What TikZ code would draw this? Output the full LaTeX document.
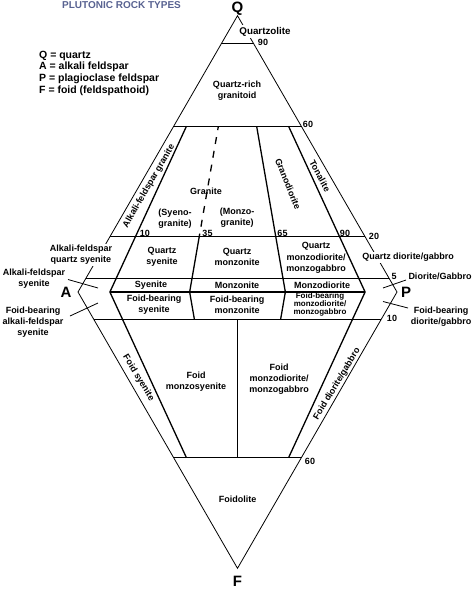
\documentclass[tikz,border=0pt]{standalone}
\usepackage{fontspec}
\setmainfont{Liberation Sans}
\definecolor{titleblue}{RGB}{88,98,145}
\begin{document}
\begin{tikzpicture}[x=1pt,y=-1pt,
  edge/.style={line width=0.8pt},
  bnd/.style={line width=1.3pt},
  lead/.style={line width=0.8pt},
  lbl/.style={font=\fontsize{9}{11.2}\selectfont\bfseries, align=center, inner sep=0pt},
  small/.style={font=\fontsize{8}{7.4}\selectfont\bfseries, align=center, inner sep=0pt},
  num/.style={font=\fontsize{9}{10}\selectfont\bfseries, inner sep=0pt},
  big/.style={font=\fontsize{15}{15}\selectfont\bfseries, inner sep=0pt},
  leg/.style={font=\fontsize{10.5}{12}\selectfont\bfseries, inner sep=0pt, anchor=base west},
  cover/.style={fill=white, inner sep=1.5pt}]
\useasboundingbox (0,0) rectangle (474,592);

% vertices
\coordinate (A) at (78,292);
\coordinate (P) at (397,292);
\coordinate (Q) at (237.5,15.7);
\coordinate (F) at (237.5,568.3);

% outline
\draw[edge] (A) -- (Q) -- (P) -- (F) -- cycle;

% horizontal lines
\coordinate (q90l) at (221.55,43.33);  \coordinate (q90r) at (253.45,43.33);
\coordinate (q60l) at (173.7,126.2);   \coordinate (q60r) at (301.3,126.2);
\coordinate (q20l) at (109.9,236.74);  \coordinate (q20r) at (365.1,236.74);
\coordinate (q5l)  at (85.975,278.18); \coordinate (q5r)  at (389.025,278.18);
\coordinate (q0a)  at (109.9,292);     \coordinate (q0b)  at (365.1,292);
\coordinate (f10l) at (93.95,319.63);  \coordinate (f10r) at (381.05,319.63);
\coordinate (f60l) at (173.7,457.78);  \coordinate (f60r) at (301.3,457.78);
\draw[bnd] (q90l) -- (q90r);
\draw[bnd] (q60l) -- (q60r);
\draw[bnd] (q20l) -- (q20r);
\draw[bnd] (q5l) -- (q5r);
\draw[bnd] (q0a) -- (q0b);
\draw[bnd] (f10l) -- (f10r);
\draw[bnd] (f60l) -- (f60r);

% ratio boundaries
\coordinate (r10a) at (186.46,126.2);
\coordinate (r10b) at (186.46,457.78);
\draw[bnd] (r10a) -- (q0a) -- (r10b);
\coordinate (r35a) at (218.36,126.2);
\coordinate (r35b) at (199.22,236.74);
\coordinate (r35c) at (189.65,292);
\coordinate (r35d) at (194.44,319.63);
\draw[bnd, dash pattern=on 7pt off 7pt, dash phase=3pt] (r35a) -- (r35b);
\draw[bnd] (r35b) -- (r35c) -- (r35d);
\coordinate (r65a) at (256.64,126.2);
\coordinate (r65c) at (285.35,292);
\coordinate (r65d) at (280.57,319.63);
\draw[bnd] (r65a) -- (r65c) -- (r65d);
\coordinate (r90a) at (288.54,126.2);
\coordinate (r90b) at (288.54,457.78);
\draw[bnd] (r90a) -- (q0b) -- (r90b);
\coordinate (r50a) at (237.5,319.63);
\coordinate (r50b) at (237.5,457.78);
\draw[bnd] (r50a) -- (r50b);

% title and legend
\node[font=\fontsize{10}{10}\selectfont\bfseries, text=titleblue, inner sep=0pt] (title) at (121.5,5.5) {PLUTONIC ROCK TYPES};
\node[leg] (legq) at (39,58) {Q = quartz};
\node[leg] (lega) at (39,69.8) {A = alkali feldspar};
\node[leg] (legp) at (39,81.5) {P = plagioclase feldspar};
\node[leg] (legf) at (39,93.2) {F = foid (feldspathoid)};

% corner letters
\node[big] (lQ) at (237.5,8.5) {Q};
\node[big] (lA) at (66,292) {A};
\node[big] (lP) at (406,292) {P};
\node[big] (lF) at (237.5,581) {F};

% upper triangle
\node[lbl, cover, font=\fontsize{9.8}{11}\selectfont\bfseries] (qzl) at (265,31.5) {Quartzolite};
\node[num] (n90a) at (263,42.5) {90};
\node[lbl] (qrg) at (237,91) {Quartz-rich\\granitoid};
\node[num] (n60a) at (308,124) {60};
\node[lbl, rotate=60] (afg) at (149,186) {Alkali-feldspar granite};
\node[lbl] (gra) at (206,191) {Granite};
\node[lbl] (syg) at (175,219) {(Syeno-\\granite)};
\node[lbl] (mzg) at (237,218) {(Monzo-\\granite)};
\node[lbl, rotate=-68] (grd) at (288,184) {Granodiorite};
\node[lbl, rotate=-62] (ton) at (320,176) {Tonalite};
\node[num] (n10a) at (145,233) {10};
\node[num] (n35) at (207.5,233) {35};
\node[num] (n65) at (282.5,233) {65};
\node[num] (n90b) at (345,233) {90};
\node[num] (n20) at (374,236) {20};

\node[lbl] (qsy) at (162,257) {Quartz\\syenite};
\node[lbl] (qmz) at (237,257) {Quartz\\monzonite};
\node[lbl, font=\fontsize{9}{11.7}\selectfont\bfseries] (qmd) at (316,258) {Quartz\\monzodiorite/\\monzogabbro};
\node[lbl, cover] (qdg) at (408,257.5) {Quartz diorite/gabbro};
\node[lbl, cover] (afqs) at (81,255) {Alkali-feldspar\\quartz syenite};

\node[lbl] (sye) at (151,285.5) {Syenite};
\node[lbl] (mzn) at (237,285.5) {Monzonite};
\node[lbl] (mzd) at (322,285.5) {Monzodiorite};
\node[lbl] (afs) at (34,278.5) {Alkali-feldspar\\syenite};
\node[lbl] (dg) at (440,276) {Diorite/Gabbro};
\node[num] (n5) at (394,276.5) {5};

% foid-bearing row
\node[lbl] (fbs) at (154,304.5) {Foid-bearing\\syenite};
\node[lbl] (fbm) at (237,304.5) {Foid-bearing\\monzonite};
\node[small] (fbmd) at (320,304) {Foid-bearing\\monzodiorite/\\monzogabbro};
\node[lbl] (fbafs) at (33,322) {Foid-bearing\\alkali-feldspar\\syenite};
\node[lbl] (fbdg) at (441,316.5) {Foid-bearing\\diorite/gabbro};
\node[num] (n10b) at (392,318) {10};

% leaders
\coordinate (afsE) at (98,288);
\coordinate (afsS) at (68,279.5);
\draw[lead] (afsS) -- (afsE);
\coordinate (fbafsE) at (98,303);
\coordinate (fbafsS) at (70,316);
\draw[lead] (fbafsS) -- (fbafsE);
\coordinate (dgE) at (383,288);
\coordinate (dgS) at (406,280);
\draw[lead] (dgS) -- (dgE);
\coordinate (fbdgE) at (383,301.5);
\coordinate (fbdgS) at (408,308);
\draw[lead] (fbdgS) -- (fbdgE);

% lower triangle
\node[lbl, rotate=-59] (fsy) at (138.5,378) {Foid syenite};
\node[lbl] (fms) at (196,382) {Foid\\monzosyenite};
\node[lbl] (fmd) at (279,379) {Foid\\monzodiorite/\\monzogabbro};
\node[lbl, rotate=59] (fdg) at (337,384) {Foid diorite/gabbro};
\node[num] (n60b) at (310,461) {60};
\node[lbl] (fdl) at (237.5,499) {Foidolite};
\end{tikzpicture}
\end{document}
